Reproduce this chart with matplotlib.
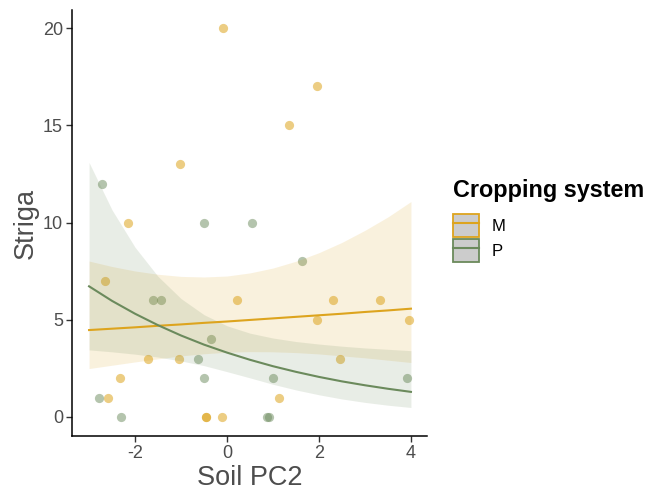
import matplotlib
matplotlib.use("Agg")
import matplotlib.pyplot as plt
from matplotlib.patches import Rectangle
from matplotlib.lines import Line2D

plt.rcParams['font.family'] = ['Liberation Sans', 'DejaVu Sans']
plt.rcParams['axes.unicode_minus'] = False

# -----------------------------
# Data
# -----------------------------
m_x = [-0.09, 1.35, 1.96, -1.02, -2.15, -2.65, 0.22, 2.30, 3.33, 1.96,
       3.96, -1.71, -1.04, 2.45, -2.32, -2.59, 1.12, -0.45, -0.45, -0.11]
m_y = [20, 15, 17, 13, 10, 7, 6, 6, 6, 5, 5, 3, 3, 3, 2, 1, 1, 0, 0, 0]

p_x = [-2.71, -0.51, 0.54, 1.63, -1.61, -1.43, -0.34, -0.62, -0.51, 1.01,
       3.91, -2.78, -2.30, 0.86, 0.92]
p_y = [12, 10, 10, 8, 6, 6, 4, 3, 2, 2, 2, 1, 0, 0, 0]

# fitted curves and confidence bands (read at 0.5 steps)
fit_x = [-3, -2.5, -2, -1.5, -1, -0.5, 0, 0.5, 1, 1.5, 2, 2.5, 3, 3.5, 4]
m_fit = [4.47, 4.54, 4.61, 4.69, 4.76, 4.84, 4.91, 4.99, 5.07, 5.15, 5.23, 5.31, 5.40, 5.48, 5.57]
m_hi = [8.02, 7.74, 7.51, 7.34, 7.23, 7.20, 7.25, 7.41, 7.66, 8.01, 8.45, 8.98, 9.60, 10.29, 11.08]
m_lo = [2.49, 2.66, 2.83, 2.99, 3.14, 3.25, 3.33, 3.36, 3.35, 3.31, 3.24, 3.14, 3.04, 2.92, 2.80]
p_fit = [6.72, 5.97, 5.31, 4.72, 4.19, 3.72, 3.31, 2.94, 2.61, 2.32, 2.06, 1.83, 1.63, 1.45, 1.29]
p_hi = [13.09, 10.65, 8.73, 7.23, 6.09, 5.26, 4.69, 4.31, 4.06, 3.88, 3.75, 3.64, 3.55, 3.48, 3.41]
p_lo = [3.45, 3.35, 3.23, 3.08, 2.88, 2.64, 2.33, 2.01, 1.68, 1.39, 1.14, 0.925, 0.749, 0.604, 0.487]

col_m = "#DDA41E"
col_p = "#6B8A5C"
grey = "#4D4D4D"

fig = plt.figure(figsize=(6.49, 4.93), dpi=100)
ax = fig.add_axes([0.111, 0.1156, 0.547, 0.864])

ax.scatter(m_x, m_y, s=44, color=col_m, alpha=0.55, linewidths=0, zorder=2)
ax.scatter(p_x, p_y, s=44, color=col_p, alpha=0.5, linewidths=0, zorder=2)

ax.fill_between(fit_x, m_lo, m_hi, color=col_m, alpha=0.15, linewidth=0, zorder=3)
ax.fill_between(fit_x, p_lo, p_hi, color=col_p, alpha=0.15, linewidth=0, zorder=3)
ax.plot(fit_x, m_fit, color=col_m, lw=1.5, zorder=4)
ax.plot(fit_x, p_fit, color=col_p, lw=1.5, zorder=4)

ax.set_xlim(-3.37, 4.35)
ax.set_ylim(-0.98, 20.93)
ax.set_xticks([-2, 0, 2, 4])
ax.set_yticks([0, 5, 10, 15, 20])
for s in ["top", "right"]:
    ax.spines[s].set_visible(False)
for s in ["left", "bottom"]:
    ax.spines[s].set_linewidth(1.1)
    ax.spines[s].set_color("black")
ax.tick_params(length=4, width=1, color="#333333", labelsize=13, labelcolor=grey, pad=2.5)
ax.set_xlabel("Soil PC2", fontsize=19.5, color=grey, labelpad=2)
ax.set_ylabel("Striga", fontsize=19.5, color=grey, labelpad=3)

# legend
handles = []
for c in [col_m, col_p]:
    box = Rectangle((0, 0), 1, 1, facecolor="#CCCCCC", edgecolor=c, linewidth=1.3)
    ln = Line2D([], [], color=c, lw=1.5)
    handles.append((box, ln))
leg = fig.legend(handles, ["M", "P"], loc="upper left", bbox_to_anchor=(0.685, 0.654),
                 frameon=False, fontsize=12, title="Cropping system",
                 title_fontproperties={"weight": "bold", "size": 16.8},
                 handlelength=1.55, handleheight=1.75, labelspacing=0.1,
                 handletextpad=0.75, alignment="left", borderpad=0)
leg._legend_box.sep = 9

fig.savefig("out.png", dpi=100)
